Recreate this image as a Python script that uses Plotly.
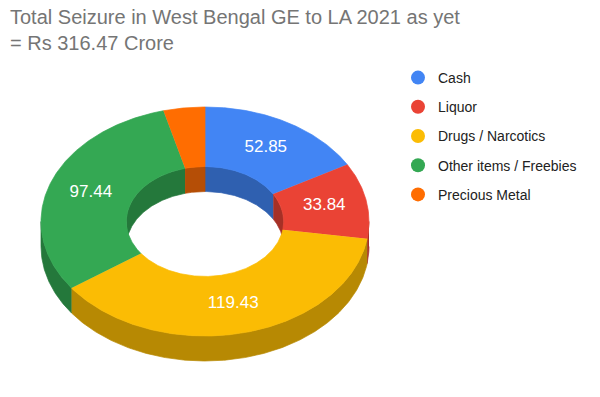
import numpy as np
import plotly.graph_objects as go

# ---- data ----
title_text = "Total Seizure in West Bengal GE to LA 2021 as yet<br>= Rs 316.47 Crore"
categories = ["Cash", "Liquor", "Drugs / Narcotics", "Other items / Freebies", "Precious Metal"]
values = [52.85, 33.84, 119.43, 97.44, 12.91]
colors = ["#4285F4", "#EA4335", "#FBBC04", "#34A853", "#FF6D01"]
side_colors = ["#2F60B0", "#A63026", "#B78903", "#24783B", "#B54E06"]

# ---- geometry (pixel space of the 600x397 canvas) ----
W, H = 600, 397
CX, CY = 205.0, 221.5
RX, RY = 164.0, 114.5
HOLE = 0.48
DEPTH = 25.0


def pt(scale, theta_deg, dy=0.0):
    t = np.radians(theta_deg)
    return CX + RX * scale * np.sin(t), CY - RY * scale * np.cos(t) + dy


def arc(scale, a0, a1, dy=0.0):
    n = max(int(abs(a1 - a0) * 2) + 2, 4)
    th = np.linspace(a0, a1, n)
    return pt(scale, th, dy)


def clip(a0, a1, lo, hi):
    s, e = max(a0, lo), min(a1, hi)
    return (s, e) if e > s else None


total = float(sum(values))
bounds = []
acc = 0.0
for v in values:
    a0 = acc / total * 360.0
    acc += v
    a1 = acc / total * 360.0
    bounds.append((a0, a1))

fig = go.Figure()


def poly(xs, ys, color):
    fig.add_trace(go.Scatter(
        x=list(xs), y=list(ys), mode="lines", fill="toself",
        fillcolor=color, line=dict(color=color, width=0.7),
        hoverinfo="skip", showlegend=False))


# inner walls (back half of the hole)
for (a0, a1), sc in zip(bounds, side_colors):
    for lo, hi in [(-90, 90), (270, 450)]:
        seg = clip(a0, a1, lo, hi)
        if seg is None:
            continue
        x1, y1 = arc(HOLE, seg[0], seg[1])
        x2, y2 = arc(HOLE, seg[1], seg[0], DEPTH)
        poly(np.concatenate([x1, x2]), np.concatenate([y1, y2]), sc)

# outer walls (front half)
for (a0, a1), sc in zip(bounds, side_colors):
    seg = clip(a0, a1, 90, 270)
    if seg is None:
        continue
    x1, y1 = arc(1.0, seg[0], seg[1])
    x2, y2 = arc(1.0, seg[1], seg[0], DEPTH)
    poly(np.concatenate([x1, x2]), np.concatenate([y1, y2]), sc)

# top faces
for (a0, a1), c in zip(bounds, colors):
    x1, y1 = arc(1.0, a0, a1)
    x2, y2 = arc(HOLE, a1, a0)
    poly(np.concatenate([x1, x2]), np.concatenate([y1, y2]), c)

# value labels
lx, ly, lt = [], [], []
for (a0, a1), v in zip(bounds, values):
    if v / total < 0.05:
        continue
    x, y = pt((1 + HOLE) / 2, (a0 + a1) / 2)
    lx.append(float(x)); ly.append(float(y)); lt.append(f"{v:.2f}")
fig.add_trace(go.Scatter(
    x=lx, y=ly, mode="text", text=lt,
    textfont=dict(family="Liberation Sans, Arial", size=17, color="white"),
    hoverinfo="skip", showlegend=False))

# legend entries
for i, (cat, c) in enumerate(zip(categories, colors)):
    fig.add_trace(go.Scatter(
        x=[None], y=[None], mode="markers", name=cat,
        marker=dict(symbol="circle", size=14, color=c),
        legendgroup=f"g{i}", showlegend=True))

fig.update_layout(
    width=W, height=H,
    margin=dict(l=0, r=0, t=0, b=0),
    paper_bgcolor="white", plot_bgcolor="white",
    title=dict(text=title_text, x=10 / W, xanchor="left", y=1 - 24 / H, yanchor="top",
               font=dict(family="Liberation Sans, Arial", size=20, color="#757575")),
    xaxis=dict(range=[0, W], visible=False, fixedrange=True),
    yaxis=dict(range=[H, 0], visible=False, fixedrange=True),
    legend=dict(x=398 / W, xanchor="left", y=1 - 62 / H, yanchor="top",
                font=dict(family="Liberation Sans, Arial", size=14, color="#222222"),
                tracegroupgap=8, itemsizing="trace", bgcolor="rgba(0,0,0,0)"),
    showlegend=True,
)

fig.write_html("out.html", config={"displayModeBar": False},
               post_script="document.body.style.margin='0';")
